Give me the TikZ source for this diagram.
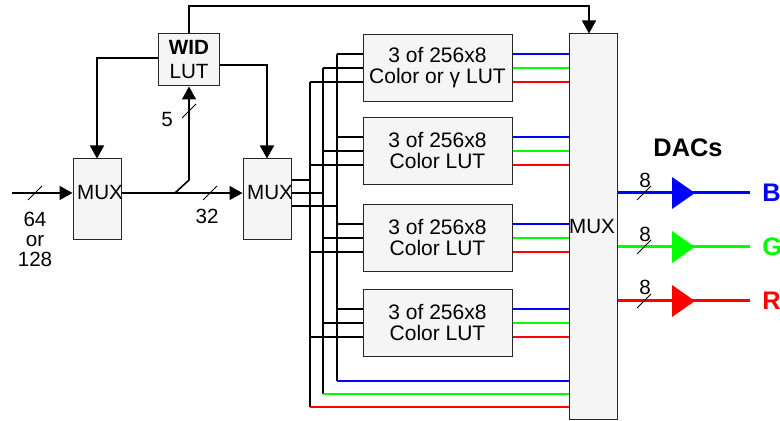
\documentclass[tikz,border=0pt]{standalone}
\usepackage{fontspec}
\setmainfont{Liberation Sans}
\usetikzlibrary{arrows.meta}
\definecolor{boxgray}{HTML}{F5F5F5}
\newcommand{\busSlash}[2]{%
    \draw[line width=0.4pt] (#1-7,#2+7) -- (#1+7,#2-7);
}
\newcommand{\dacTri}[2]{%
    \fill[#1] (672,#2-16) -- (695,#2) -- (672,#2+16) -- cycle;
}
\tikzset{
    box/.style={draw=black!85, fill=boxgray, line width=0.5pt, inner sep=0pt},
    muxbox/.style={box, minimum width=24pt, minimum height=40.5pt},
    lutbox/.style={box, minimum width=74.5pt, minimum height=33.5pt,
        align=center, font=\fontsize{10.5}{10.5}\selectfont},
    wire/.style={line width=0.8pt},
    sig/.style={line width=0.6pt},
    dacline/.style={line width=1.5pt},
    dactext/.style={font=\fontsize{12.7}{14}\selectfont\bfseries, inner sep=6pt, anchor=west},
}
\begin{document}
\begin{tikzpicture}[x=0.5pt, y=-0.5pt, font=\fontsize{10.3}{12}\selectfont,
    >={Triangle[length=6.5pt,width=7pt]}]
    \useasboundingbox (0,0) rectangle (780,421);

    % --- boxes ---
    \node[muxbox] (mux1) at (97,199.5) {};
    \node[muxbox] (mux2) at (267,199.5) {};
    \node[box, minimum width=30.5pt, minimum height=26pt, align=center,
        font=\fontsize{10.3}{12}\selectfont] (wid) at (189,60) {\textbf{WID}\\LUT};
    \node[lutbox] (lut1) at (437.5,68) {3 of 256x8\\Color or γ LUT};
    \node[lutbox] (lut2) at (437.5,151) {3 of 256x8\\Color LUT};
    \node[lutbox] (lut3) at (437.5,238) {3 of 256x8\\Color LUT};
    \node[lutbox] (lut4) at (437.5,323) {3 of 256x8\\Color LUT};
    \node[box, minimum width=24pt, minimum height=192.5pt] (bigmux) at (593,226.5) {};

    \node (mux1txt) at (100,193) {MUX};
    \node (mux2txt) at (270,193) {MUX};
    \node (bigmuxtxt) at (592,227) {MUX};

    % --- input and WID path ---
    \coordinate (in) at (12,193);
    \coordinate (tap) at (175,193);
    \coordinate (topR) at (589,6);
    \draw[wire,->] (in) -- (mux1.west |- in);
    \draw[wire,->] (mux1.east |- in) -- (mux2.west |- in);
    \draw[wire,->] (tap) -- ++(14,-13) -- (wid.south);
    \draw[wire,->] (wid.west |- 0,58) -| (mux1.north);
    \draw[wire,->] (wid.east |- 0,65) -| (mux2.north);
    \draw[wire,->] (wid.north) |- (topR) -- (topR |- bigmux.north);

    \busSlash{35}{193}
    \busSlash{210}{193}
    \busSlash{189}{111}
    \node[align=center, font=\fontsize{10.3}{10}\selectfont] (wbits) at (35,239) {64\\or\\128};
    \node (pbits) at (207,216) {32};
    \node (widbits) at (167,120) {5};

    % --- bus from second MUX ---
    \coordinate (m2b) at (mux2.east |- in);
    \coordinate (m2a) at ([yshift=6.5pt]m2b);
    \coordinate (m2c) at ([yshift=-6.5pt]m2b);
    \coordinate (busA) at (310,407);
    \coordinate (busB) at (323,394);
    \coordinate (busC) at (337,381);
    \draw[wire] (m2a) -- (m2a -| busA);
    \draw[wire] (m2b) -- (m2b -| busB);
    \draw[wire] (m2c) -- (m2c -| busC);

    \foreach \l in {lut1,lut2,lut3,lut4} {
        \coordinate (\l-c) at ([yshift=7pt]\l.west);
        \coordinate (\l-b) at (\l.west);
        \coordinate (\l-a) at ([yshift=-7pt]\l.west);
        \draw[wire] (\l-c) -- (\l-c -| busC);
        \draw[wire] (\l-b) -- (\l-b -| busB);
        \draw[wire] (\l-a) -- (\l-a -| busA);
        \draw[sig, blue] ([yshift=7pt]\l.east) -- ([yshift=7pt]\l.east -| bigmux.west);
        \draw[sig, green] (\l.east) -- (\l.east -| bigmux.west);
        \draw[sig, red] ([yshift=-7pt]\l.east) -- ([yshift=-7pt]\l.east -| bigmux.west);
    }
    \draw[wire] (lut1-c -| busC) -- (busC);
    \draw[wire] (lut1-b -| busB) -- (busB);
    \draw[wire] (lut1-a -| busA) -- (busA);
    \draw[sig, blue] (busC) -- (busC -| bigmux.west);
    \draw[sig, green] (busB) -- (busB -| bigmux.west);
    \draw[sig, red] (busA) -- (busA -| bigmux.west);

    % --- DACs ---
    \node[font=\fontsize{12.7}{14}\selectfont\bfseries] (dacs) at (688,148) {DACs};
    \node[dactext, blue] (outB) at (750,193) {B};
    \node[dactext, green] (outG) at (750,247) {G};
    \node[dactext, red] (outR) at (750,301) {R};
    \draw[dacline, blue] (bigmux.east |- outB) -- (outB.west);
    \draw[dacline, green] (bigmux.east |- outG) -- (outG.west);
    \draw[dacline, red] (bigmux.east |- outR) -- (outR.west);
    \dacTri{blue}{193}
    \dacTri{green}{247}
    \dacTri{red}{301}

    \busSlash{644}{193}
    \busSlash{644}{247}
    \busSlash{644}{301}
    \node (bitsB) at (645,180) {8};
    \node (bitsG) at (645,234) {8};
    \node (bitsR) at (645,287) {8};

\end{tikzpicture}
\end{document}
